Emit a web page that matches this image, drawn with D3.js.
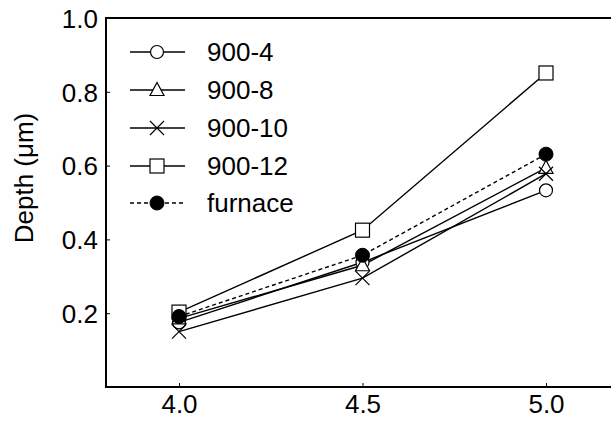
<!DOCTYPE html>
<html>
<head>
<meta charset="utf-8">
<script src="https://cdn.jsdelivr.net/npm/d3@7"></script>
<style>
  html, body { margin: 0; padding: 0; background: #fff; }
  svg { display: block; font-family: "Liberation Sans", Arial, sans-serif; }
</style>
</head>
<body>
<svg id="chart" width="611" height="422"></svg>
<script>
// Depth profile of each treatment vs. x
const xValues = [4.0, 4.5, 5.0];
const seriesNames = ["900-4", "900-8", "900-10", "900-12", "furnace"];
const depth900_4 = [0.175, 0.338, 0.533];
const depth900_8 = [0.186, 0.330, 0.594];
const depth900_10 = [0.150, 0.295, 0.578];
const depth900_12 = [0.203, 0.425, 0.851];
const depthFurnace = [0.191, 0.357, 0.631];
const xTicks = [4.0, 4.5, 5.0];
const yTicks = [0.2, 0.4, 0.6, 0.8, 1.0];

const series = [
  { name: seriesNames[0], values: depth900_4, marker: "circle", dashed: false },
  { name: seriesNames[1], values: depth900_8, marker: "triangle", dashed: false },
  { name: seriesNames[2], values: depth900_10, marker: "cross", dashed: false },
  { name: seriesNames[3], values: depth900_12, marker: "square", dashed: false },
  { name: seriesNames[4], values: depthFurnace, marker: "filled", dashed: true }
];

const svg = d3.select("#chart");
const plotLeft = 106, plotRight = 612, plotTop = 18, plotBottom = 387;
const fontSize = 26;

const x = d3.scaleLinear().domain([4.0, 5.0]).range([179, 546]);
const y = d3.scaleLinear().domain([0, 1.0]).range([plotBottom, plotTop]);

// frame
svg.append("rect")
  .attr("x", plotLeft).attr("y", plotTop)
  .attr("width", plotRight - plotLeft).attr("height", plotBottom - plotTop)
  .attr("fill", "none").attr("stroke", "#000").attr("stroke-width", 2);

// x axis (inward ticks)
const xAxis = svg.append("g").attr("transform", `translate(0,${plotBottom})`)
  .call(d3.axisBottom(x).tickValues(xTicks).tickFormat(d3.format(".1f")).tickSizeInner(-4).tickSizeOuter(0));
xAxis.select(".domain").remove();
xAxis.selectAll("line").attr("stroke", "#000").attr("stroke-width", 1);
xAxis.selectAll("text").attr("font-size", fontSize).attr("fill", "#000")
  .attr("font-family", "Liberation Sans, Arial, sans-serif").attr("y", 8).attr("dy", "0.71em");

// y axis (inward ticks)
const yAxis = svg.append("g").attr("transform", `translate(${plotLeft},0)`)
  .call(d3.axisLeft(y).tickValues(yTicks).tickFormat(d3.format(".1f")).tickSizeInner(-4).tickSizeOuter(0));
yAxis.select(".domain").remove();
yAxis.selectAll("line").attr("stroke", "#000").attr("stroke-width", 1);
yAxis.selectAll("text").attr("font-size", fontSize).attr("fill", "#000")
  .attr("font-family", "Liberation Sans, Arial, sans-serif").attr("x", -8).attr("dy", "0.36em");

// y axis title
svg.append("text")
  .attr("transform", `translate(33,178) rotate(-90)`)
  .attr("text-anchor", "middle")
  .attr("font-size", fontSize)
  .text("Depth (μm)");

function drawMarker(g, type) {
  if (type === "circle") {
    g.append("circle").attr("r", 6.5).attr("fill", "#fff").attr("stroke", "#000").attr("stroke-width", 1.2);
  } else if (type === "filled") {
    g.append("circle").attr("r", 7).attr("fill", "#000").attr("stroke", "#000").attr("stroke-width", 1);
  } else if (type === "square") {
    g.append("rect").attr("x", -7).attr("y", -7).attr("width", 14).attr("height", 14)
      .attr("fill", "#fff").attr("stroke", "#000").attr("stroke-width", 1.2);
  } else if (type === "triangle") {
    g.append("path").attr("d", "M0,-7.5L7,5.5L-7,5.5Z")
      .attr("fill", "#fff").attr("stroke", "#000").attr("stroke-width", 1.2);
  } else if (type === "cross") {
    g.append("path").attr("d", "M-7,-7L7,7M-7,7L7,-7")
      .attr("fill", "none").attr("stroke", "#000").attr("stroke-width", 1.2);
  }
}

const line = d3.line().x((d, i) => x(xValues[i])).y(d => y(d));

// lines first, then markers
series.forEach(s => {
  svg.append("path").datum(s.values)
    .attr("d", line)
    .attr("fill", "none").attr("stroke", "#000").attr("stroke-width", 1.4)
    .attr("stroke-dasharray", s.dashed ? "4,3" : null);
});
series.forEach(s => {
  s.values.forEach((v, i) => {
    const g = svg.append("g").attr("transform", `translate(${x(xValues[i])},${y(v)})`);
    drawMarker(g, s.marker);
  });
});

// legend
const legendY = [52, 90, 128, 166, 203];
series.forEach((s, i) => {
  const ly = legendY[i];
  svg.append("line").attr("x1", 130).attr("x2", 185).attr("y1", ly).attr("y2", ly)
    .attr("stroke", "#000").attr("stroke-width", 1.4)
    .attr("stroke-dasharray", s.dashed ? "4,3" : null);
  const g = svg.append("g").attr("transform", `translate(157,${ly})`);
  drawMarker(g, s.marker);
  svg.append("text").attr("x", 207).attr("y", ly).attr("dy", "0.36em")
    .attr("font-size", fontSize).text(s.name);
});
</script>
</body>
</html>
